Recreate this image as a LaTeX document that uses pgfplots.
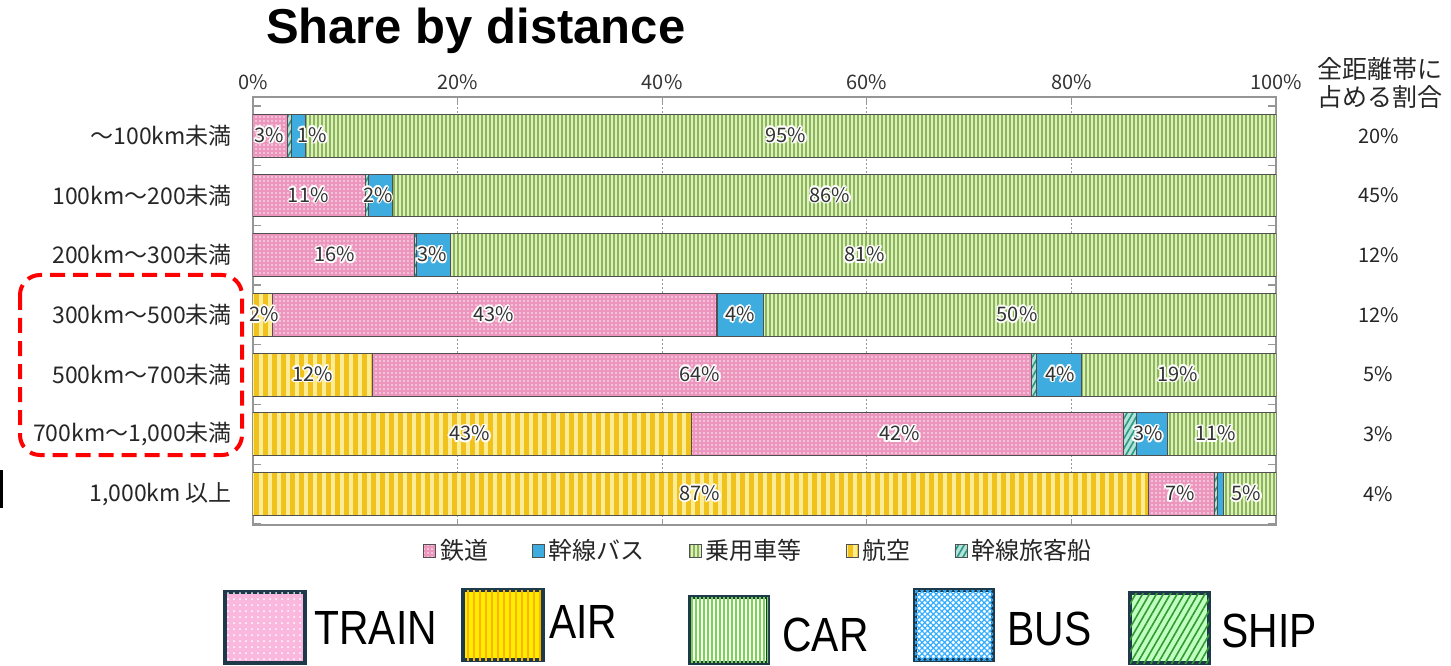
\documentclass[border=0pt]{standalone}
\usepackage{fontspec}
\setmainfont{Noto Sans CJK JP}
\newfontfamily\latinfont{Liberation Sans}
\usepackage{pgfplots}
\pgfplotsset{compat=1.18}
\usetikzlibrary{patterns,patterns.meta}
\usepackage{contour}
\contourlength{0.8pt}
\contournumber{12}

\definecolor{trainpink}{RGB}{236,150,190}
\definecolor{busblue}{RGB}{62,172,222}
\definecolor{cargreen}{RGB}{140,184,84}
\definecolor{carstripe}{RGB}{222,238,196}
\definecolor{airyellow}{RGB}{242,194,28}
\definecolor{airstripe}{RGB}{252,236,150}
\definecolor{shipbase}{RGB}{178,228,214}
\definecolor{shipline}{RGB}{44,150,138}
\definecolor{barline}{RGB}{80,80,80}
\definecolor{frame}{RGB}{150,150,150}
\definecolor{labtext}{RGB}{50,50,50}
\definecolor{boxedge}{RGB}{30,58,74}

% y = row (6 = top band)
\pgfplotstableread{
y air train ship bus car
6 0    3.4  0.4 1.3 94.9
5 0    11.0 0.3 2.3 86.4
4 0    15.8 0.2 3.3 80.7
3 1.9  43.4 0.1 4.5 50.1
2 11.7 64.4 0.5 4.4 19.0
1 42.9 42.2 1.3 3.0 10.6
0 87.5 6.5  0.3 0.6 5.1
}\shares

\pgfplotstableread{
x y lab
1.6 6 3
5.8 6 1
52.1 6 95
5.4 5 11
12.2 5 2
56.4 5 86
8.0 4 16
17.5 4 3
59.8 4 81
1.1 3 2
23.5 3 43
47.6 3 4
74.7 3 50
5.8 2 12
43.7 2 64
78.9 2 4
90.4 2 19
21.2 1 43
63.2 1 42
87.5 1 3
94.1 1 11
43.7 0 87
90.6 0 7
97.1 0 5
}\seglabels

\pgfplotstableread{
x y lab
110 6 20
110 5 45
110 4 12
110 3 12
110 2 5
110 1 3
110 0 4
}\bandshare

\tikzset{
  trainfill/.style={fill=trainpink, postaction={pattern color=white!85!trainpink, pattern={Dots[radius=0.45pt, distance=2pt]}}},
  busfill/.style={fill=busblue},
  carfill/.style={fill=cargreen, postaction={pattern color=carstripe, pattern={Lines[angle=90, distance=2pt, line width=0.6pt]}}},
  airfill/.style={fill=airyellow, postaction={pattern color=airstripe, pattern={Lines[angle=90, distance=4.5pt, line width=1.6pt]}}},
  shipfill/.style={fill=shipbase, postaction={pattern color=shipline, pattern={Lines[angle=60, distance=2.5pt, line width=0.8pt]}}},
}

\begin{document}
\begin{tikzpicture}
\begin{axis}[
  at={(126.5pt,70pt)}, anchor=south west,
  scale only axis, width=511.5pt, height=214pt,
  xbar stacked, bar width=0.72,
  xmin=0, xmax=100, ymin=-0.52, ymax=6.65,
  axis line style={frame, line width=0.8pt},
  xtick={0,20,...,100},
  xticklabels={0\%,20\%,40\%,60\%,80\%,100\%},
  xticklabel pos=upper,
  xticklabel style={font=\fontsize{10}{12}\selectfont, text=black!80},
  xmajorgrids, grid style={frame, dash pattern=on 1pt off 1pt, line width=0.5pt},
  major tick length=3pt, tick style={frame, line width=0.6pt},
  ytick={0,...,6},
  yticklabels={{1,000km 以上},{700km～1,000未満},{500km～700未満},{300km～500未満},{200km～300未満},{100km～200未満},{～100km未満}},
  yticklabel style={font=\fontsize{11.5}{13}\selectfont, text=black!85, xshift=-7pt},
  every major y tick/.style={draw=none},
  minor ytick={-0.5,0.5,...,6.5},
  minor tick length=4pt,
  legend columns=5,
  legend image code/.code={\draw[#1] (0pt,-3.2pt) rectangle (6pt,3.2pt);},
  legend style={at={(0.495,-0.061)}, anchor=center, draw=none, fill=none,
    font=\fontsize{12}{14}\selectfont, text=black!85,
    /tikz/every even column/.append style={column sep=20pt},
    inner sep=0pt},
]
\addplot[forget plot, draw=barline, line width=0.5pt, airfill] table[x=air, y=y] {\shares};
\addplot[forget plot, draw=barline, line width=0.5pt, trainfill] table[x=train, y=y] {\shares};
\addplot[forget plot, draw=barline, line width=0.5pt, shipfill] table[x=ship, y=y] {\shares};
\addplot[forget plot, draw=barline, line width=0.5pt, busfill] table[x=bus, y=y] {\shares};
\addplot[forget plot, draw=barline, line width=0.5pt, carfill] table[x=car, y=y] {\shares};

\addlegendimage{draw=barline, line width=0.4pt, trainfill}
\addlegendentry{鉄道}
\addlegendimage{draw=barline, line width=0.4pt, busfill}
\addlegendentry{幹線バス}
\addlegendimage{draw=barline, line width=0.4pt, carfill}
\addlegendentry{乗用車等}
\addlegendimage{draw=barline, line width=0.4pt, airfill}
\addlegendentry{航空}
\addlegendimage{draw=barline, line width=0.4pt, shipfill}
\addlegendentry{幹線旅客船}
\end{axis}

\begin{axis}[
  at={(126.5pt,70pt)}, anchor=south west,
  scale only axis, width=511.5pt, height=214pt,
  xmin=0, xmax=100, ymin=-0.52, ymax=6.65,
  hide axis, clip=false,
]
% segment labels with a white halo, as in the original
\addplot[draw=none, nodes near coords={\contour{white}{\pgfplotspointmeta\%}},
  point meta=explicit symbolic, nodes near coords align={center},
  every node near coord/.append style={font=\fontsize{10}{12}\selectfont, text=labtext, inner sep=0pt}]
  table[x=x, y=y, meta=lab] {\seglabels};
\addplot[draw=none, nodes near coords={\pgfplotspointmeta\%},
  point meta=explicit symbolic, nodes near coords align={center},
  every node near coord/.append style={font=\fontsize{10}{12}\selectfont, text=black!85, inner sep=0pt}]
  table[x=x, y=y, meta=lab] {\bandshare};
\end{axis}

% everything below uses pixel-like coordinates, y downward
\begin{scope}[x=0.5pt, y=-0.5pt, yshift=332.5pt]
\path (0,0) rectangle (1451,665);

\node[anchor=base west, font=\latinfont\bfseries\fontsize{24.5}{28}\selectfont] at (259,44) {Share by distance};

\node[align=center, font=\fontsize{12.5}{14}\selectfont, text=black!85] at (1380,83) {全距離帯に\\占める割合};

% annotation added over the chart
\draw[red, line width=2pt, dash pattern=on 7.5pt off 4pt, rounded corners=10pt] (20,275) rectangle (242,455);
\fill[black] (0,470) rectangle (3,508);

% English key
\begin{scope}[line width=2pt, draw=boxedge]
\draw[fill=white!30!magenta!40, postaction={pattern color=white, pattern={Dots[radius=0.5pt, distance=3pt]}}] (225,592) rectangle (305,663);
\draw[fill=yellow!95!orange, postaction={pattern color=orange!60!yellow, pattern={Lines[angle=90, distance=3pt, line width=0.8pt]}}] (463,590) rectangle (543,660);
\draw[fill=white, postaction={pattern color=green!55!olive!70, pattern={Lines[angle=90, distance=2pt, line width=0.6pt]}}] (690,597) rectangle (768,663);
\draw[fill=white, postaction={pattern color=cyan!60!blue!80, pattern={Hatch[angle=45, distance=2pt, line width=0.6pt]}}] (915,590) rectangle (993,660);
\draw[fill=green!25, postaction={pattern color=green!50!black!80, pattern={Lines[angle=60, distance=3pt, line width=0.8pt]}}] (1130,593) rectangle (1209,663);
\end{scope}
\begin{scope}[every node/.style={anchor=west, inner sep=0pt, font=\latinfont\fontsize{24}{28}\selectfont}]
\node at (314,628) {\scalebox{0.85}[1]{TRAIN}};
\node at (549,622) {\scalebox{0.85}[1]{AIR}};
\node at (782,635) {\scalebox{0.85}[1]{CAR}};
\node at (1007,629) {\scalebox{0.85}[1]{BUS}};
\node at (1221,631) {\scalebox{0.85}[1]{SHIP}};
\end{scope}
\end{scope}
\end{tikzpicture}
\end{document}
